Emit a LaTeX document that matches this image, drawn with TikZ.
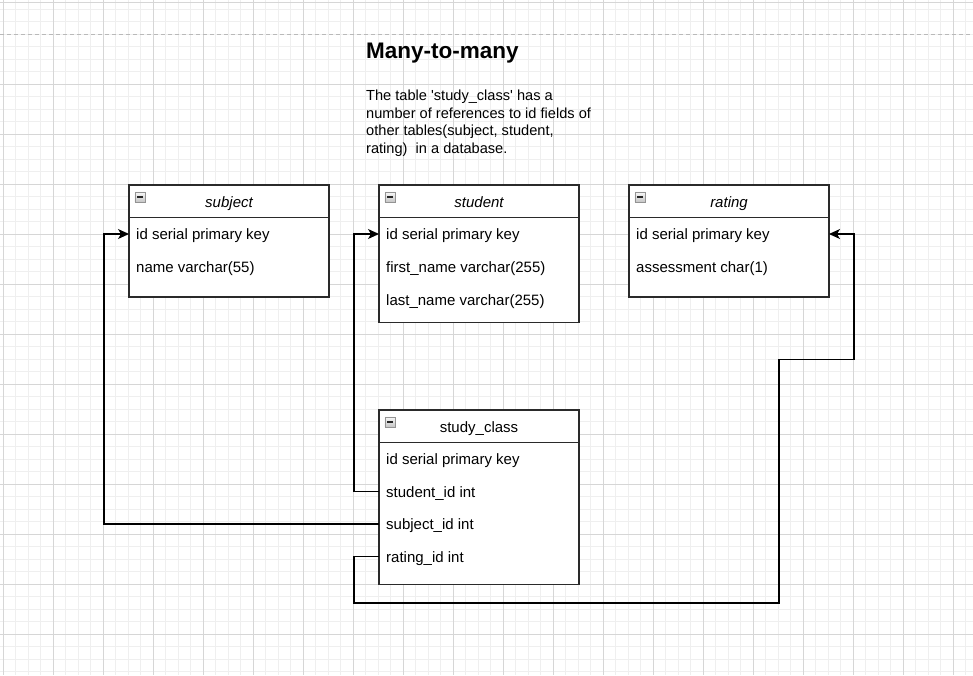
\documentclass[tikz,border=0pt]{standalone}
\usepackage{fontspec}
\setmainfont{Liberation Sans}
\usetikzlibrary{arrows.meta}
\definecolor{minorgrid}{HTML}{EFEFEF}
\definecolor{majorgrid}{HTML}{D6D6D6}
\definecolor{boxline}{HTML}{2A2A2A}
\tikzset{
  tbl/.style={draw=boxline, line width=1.15pt, fill=white, anchor=north west, minimum width=200pt, inner sep=0pt, outer sep=0pt},
  hdr/.style={font=\fontsize{15}{18}\selectfont, anchor=base, inner sep=0pt},
  rowtxt/.style={font=\fontsize{15}{18}\selectfont, anchor=base west, inner sep=0pt},
  conn/.style={draw=black, line width=1.2pt},
  arr/.style={conn, -{Stealth[length=11pt,width=10pt,inset=3pt]}},
  mini/.style={draw=gray!85, line width=0.7pt, top color=gray!5, bottom color=gray!45, minimum width=10.5pt, minimum height=10pt, inner sep=0pt, anchor=north west}
}
\newcommand{\minusicon}[2]{%
  \node[mini] (#2) at (#1) {};
  \draw[line width=1.3pt, black!85] ([xshift=2.5pt]#2.west) -- ([xshift=-2.5pt]#2.east);
}
\begin{document}
\begin{tikzpicture}[x=1pt,y=-1pt]
\useasboundingbox (0,0) rectangle (973,675);
\fill[white] (0,0) rectangle (973,675);
% grid
\foreach \k in {0,...,77} {\draw[minorgrid, line width=0.8pt] ({3.3+12.5*\k},0) -- ({3.3+12.5*\k},675);}
\foreach \k in {-2,...,51} {\draw[minorgrid, line width=0.8pt] (0,{34.3+12.5*\k}) -- (973,{34.3+12.5*\k});}
\foreach \k in {0,...,19} {\draw[majorgrid, line width=0.9pt] ({3.3+50*\k},0) -- ({3.3+50*\k},675);}
\foreach \k in {1,...,12} {\draw[majorgrid, line width=0.9pt] (0,{34.3+50*\k}) -- (973,{34.3+50*\k});}
\draw[majorgrid, line width=0.9pt] (0,2.3) -- (973,2.3);
\draw[gray!55, line width=0.9pt, dash pattern=on 4pt off 3pt] (0,34.3) -- (973,34.3);

% title and description
\node[anchor=base west, inner sep=0pt, font=\fontsize{22.5}{27}\selectfont\bfseries] (title) at (366,58) {Many-to-many};
\node[anchor=north west, inner sep=0pt, align=left, font=\fontsize{14.6}{17.8}\selectfont] (desc) at (366,89.5)
  {The table \textquotesingle study\_class\textquotesingle{} has a\\number of references to id fields of\\other tables(subject, student,\\rating)\ \ in a database.};

% subject
\node[tbl, minimum height=112pt] (subject) at (129,185) {};
\draw[boxline, line width=1.15pt] (129,217.3) -- (329,217.3);
\minusicon{134.5,191.5}{subjmin}
\node[hdr, font=\fontsize{15}{18}\selectfont\itshape] (subjhdr) at (229,207) {subject};
\node[rowtxt] (subjid) at (136,239.5) {id serial primary key};
\node[rowtxt] (subjname) at (136,272.5) {name varchar(55)};

% student
\node[tbl, minimum height=137.5pt] (student) at (379,185) {};
\draw[boxline, line width=1.15pt] (379,217.3) -- (579,217.3);
\minusicon{384.5,191.5}{studmin}
\node[hdr, font=\fontsize{15}{18}\selectfont\itshape] (studhdr) at (479,207) {student};
\node[rowtxt] (studid) at (386,239.5) {id serial primary key};
\node[rowtxt] (studfirst) at (386,272.5) {first\_name varchar(255)};
\node[rowtxt] (studlast) at (386,305) {last\_name varchar(255)};

% rating
\node[tbl, minimum height=112pt] (rating) at (629,185) {};
\draw[boxline, line width=1.15pt] (629,217.3) -- (829,217.3);
\minusicon{634.5,191.5}{ratmin}
\node[hdr, font=\fontsize{15}{18}\selectfont\itshape] (rathdr) at (729,207) {rating};
\node[rowtxt] (ratid) at (636,239.5) {id serial primary key};
\node[rowtxt] (ratass) at (636,272.5) {assessment char(1)};

% study_class
\node[tbl, minimum height=174.5pt] (sc) at (379,410) {};
\draw[boxline, line width=1.15pt] (379,442.3) -- (579,442.3);
\minusicon{384.5,416.5}{scmin}
\node[hdr] (schdr) at (479,432) {study\_class};
\node[rowtxt] (scid) at (386,464.8) {id serial primary key};
\node[rowtxt] (scstud) at (386,497.2) {student\_id int};
\node[rowtxt] (scsubj) at (386,529.5) {subject\_id int};
\node[rowtxt] (scrat) at (386,562) {rating\_id int};

% connectors
\coordinate (scstudL) at (379,491.7);
\coordinate (scsubjL) at (379,524);
\coordinate (scratL) at (379,556.5);
\coordinate (studidL) at (379,234);
\coordinate (subjidL) at (129,234);
\coordinate (ratidR) at (829,234);
\draw[arr] (scstudL) -- (354,491.7) -- (354,234) -- (studidL);
\draw[arr] (scsubjL) -- (104,524) -- (104,234) -- (subjidL);
\draw[arr] (scratL) -- (354,556.5) -- (354,603) -- (779,603) -- (779,359.5) -- (854,359.5) -- (854,234) -- (ratidR);
\end{tikzpicture}
\end{document}
